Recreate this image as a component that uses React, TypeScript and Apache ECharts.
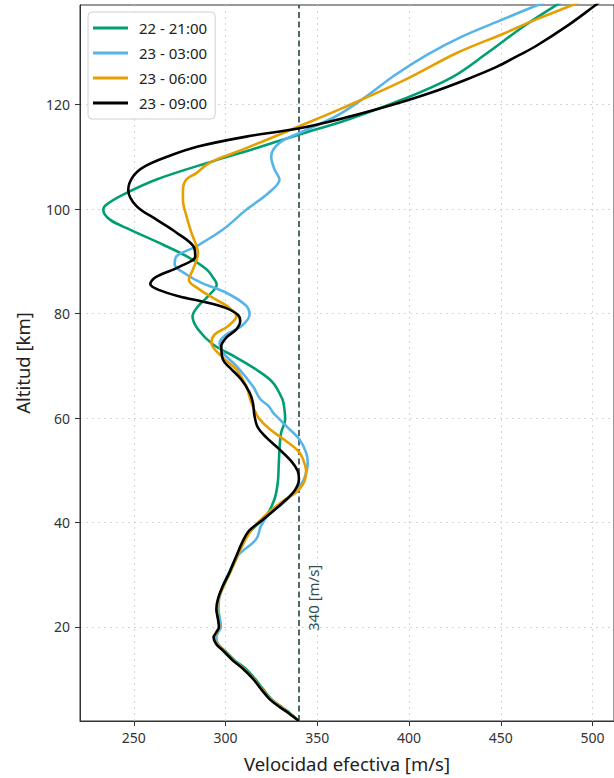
import React, { useEffect, useRef } from "react";
import * as echarts from "echarts";

const xTicks = [250, 300, 350, 400, 450, 500];
const yTicks = [20, 40, 60, 80, 100, 120];
const seriesNames = ["22 - 21:00", "23 - 03:00", "23 - 06:00", "23 - 09:00"];
const seriesColors = ["#009E73", "#56B4E9", "#E69F00", "#000000"];
const refSpeed = 340;
const refLabel = "340 [m/s]";
const refLabelAltitude = 20;
const xTitle = "Velocidad efectiva [m/s]";
const yTitle = "Altitud [km]";

// [velocidad m/s, altitud km]
const green: number[][] = [
  [340, 2], [335.5, 3.4], [330.5, 4.7], [325, 6.2], [320.5, 8.1], [316, 10.1], [311, 12],
  [305, 13.6], [299.5, 15.5], [296, 16.7], [294.5, 18], [295.5, 19], [296.8, 20], [296, 21.5],
  [295.5, 23.4], [296.2, 25.4], [299, 27.9], [302.5, 30.5], [306.5, 33.6], [310, 36.5],
  [314, 38.5], [322.2, 41.3], [326.7, 44.5], [328.5, 47.7], [329, 51], [329.4, 54],
  [330.3, 57.2], [332.5, 59.8], [332, 62], [331, 63.6], [325.8, 66.8], [316.7, 69.3],
  [305.9, 71.6], [293.2, 74.1], [285, 77], [282, 79.5], [285, 81.4], [290.4, 83.3],
  [295.2, 85.6], [293, 87], [289.6, 88.5], [278.7, 91], [266, 93.2], [247.9, 96.1],
  [237, 98], [233.4, 99.9], [235.2, 100.9], [244.2, 102.8], [262.4, 105.7], [293.2, 109.2],
  [314, 111.4], [340.3, 114.3], [366, 117.1], [396.4, 121], [423.6, 125.3],
  [443, 130], [461.6, 134.8], [479, 138.8], [487, 140.5],
];

const blue: number[][] = [
  [340, 2], [335, 3.4], [330, 4.7], [324.5, 6.2], [319.8, 8.1], [315, 10.1], [309.8, 12],
  [304.5, 13.6], [299, 15.5], [296, 16.7], [295, 18], [296, 19], [297.5, 20], [297, 21.5],
  [296.2, 23.4], [296.5, 25.4], [298.6, 27.9], [302, 30.5], [306.5, 33.6], [316.7, 36.8],
  [319.4, 39.4], [323.5, 41.5], [331.5, 43.8], [339, 46.4], [343, 48.5], [344.8, 51.5],
  [343.9, 53.4], [340.3, 55.9], [333, 58.5], [329.4, 59.8], [326, 61], [323.5, 62.3],
  [319, 63.6], [314.9, 66.1], [305.9, 70], [298.6, 72.5], [296.8, 74.4], [300.4, 76],
  [308.6, 77.6], [313.1, 79.8], [311, 81.6], [300.4, 84], [287, 85.9], [278.7, 87.5],
  [272.3, 89.4], [273.3, 91], [284.1, 92.9], [298.6, 96.1], [311.3, 99.9], [323.4, 103.1],
  [329.4, 105.7], [326.7, 107.6], [324.9, 110.1], [329, 112.6], [340.3, 114.6],
  [360.2, 117.8], [376, 121.4], [392, 125.6], [410, 129.6], [428.5, 133],
  [450.8, 136.3], [468.1, 138.8], [478, 140.2],
];

const orange: number[][] = [
  [340, 2], [335, 3.4], [330, 4.7], [324.5, 6.2], [319.8, 8.1], [315.2, 10.1], [309.8, 12],
  [304.3, 13.6], [298.8, 15.5], [295.5, 16.7], [294, 18], [295.3, 19], [296.6, 20],
  [296.1, 21.5], [295.3, 23.4], [296.2, 25.4], [299, 27.9], [302.6, 30.5], [306.5, 33.6],
  [310.5, 36.5], [314, 38.5], [320.5, 41], [330, 43.8], [340.3, 46.4], [343.9, 49.6],
  [343.5, 50.8], [340.3, 53.4], [333, 55.6], [324, 57.9], [318.5, 59.8], [316.5, 61],
  [314, 63], [311.3, 66.1], [305.9, 69.3], [298.6, 71.6], [292.3, 74.4], [294.1, 76],
  [301.3, 77.6], [305.9, 79.5], [302.2, 81.1], [293.2, 83], [286, 84.6], [280, 86.5],
  [282.3, 88.5], [285, 91.6], [281.4, 95.5], [278.7, 98.7], [276.8, 101.8], [276.8, 103.7],
  [278.7, 105.7], [284.1, 106.9], [289.6, 108.5], [295, 109.5], [311.3, 111.7],
  [340.3, 115.9], [364, 119.4], [398, 124.8], [426, 129.9], [452, 133.7],
  [469, 136.3], [487, 138.8], [498, 140.5],
];

const black: number[][] = [
  [340, 2], [334.8, 3.4], [329.4, 4.7], [324, 6.2], [319.4, 8.1], [314.9, 10.1], [309.5, 12],
  [304, 13.6], [298.6, 15.5], [295, 16.7], [293.5, 18], [295, 19], [296.4, 20], [295.9, 21.5],
  [295, 23.4], [295.9, 25.4], [298.6, 27.9], [302.2, 30.5], [305.9, 33.6], [309.5, 36.5],
  [313, 38.5], [320.5, 40.6], [331.2, 43.8], [337.6, 46.1], [340, 48.3], [339.3, 49.9],
  [335.7, 51.8], [329.4, 54], [322.2, 56.3], [317.6, 58.2], [315.8, 60.4], [314.9, 63],
  [313.1, 64.9], [308.6, 67.4], [302.2, 69.7], [298.6, 71.2], [297.7, 73.8], [300.4, 75.4],
  [305.9, 77], [308, 78.6], [306.7, 79.8], [300, 81.1], [289, 82.2], [275, 83.3],
  [264, 84.5], [259, 85.7], [262, 87], [275, 89], [283.5, 91], [282.5, 92.9], [273.3, 95.5],
  [262.4, 98], [251.5, 100.6], [247, 103.7], [249.7, 106.3], [256, 108.2], [268.5, 110.1],
  [285, 112], [311.3, 113.9], [340.3, 115.5], [366, 117.6], [391, 120],
  [411, 122.2], [431, 124.8], [448, 127.3], [460, 129.5], [469, 131.2], [487, 135.3],
  [500.6, 138.8], [507, 140.5],
];

const seriesData = [green, blue, orange, black];

const FONT = "Noto Sans";

export default function App() {
  const ref = useRef<HTMLDivElement>(null);
  useEffect(() => {
    document.body.style.margin = "0";
    if (!ref.current) return;
    const chart = echarts.init(ref.current, undefined, { renderer: "svg" });
    const option: any = {
      animation: false,
      backgroundColor: "#ffffff",
      textStyle: { fontFamily: FONT },
      grid: {
        left: 80, top: 5, right: -2, bottom: 56,
        show: true, borderColor: "#333", borderWidth: 1, backgroundColor: "transparent",
      },
      legend: {
        orient: "vertical",
        left: 88,
        top: 12,
        data: seriesNames,
        icon: "rect",
        itemWidth: 35,
        itemHeight: 3,
        itemGap: 7,
        padding: [7, 8, 7, 5],
        backgroundColor: "#ffffff",
        borderColor: "#d0d0d0",
        borderWidth: 1,
        borderRadius: 4,
        textStyle: { fontFamily: FONT, fontSize: 15, color: "#222", lineHeight: 18, padding: [0, 0, 0, 6] },
      },
      xAxis: {
        type: "value",
        min: 220.7,
        max: 511.7,
        name: xTitle,
        nameLocation: "middle",
        nameGap: 33,
        nameTextStyle: { fontFamily: FONT, fontSize: 18.5, color: "#222" },
        axisLine: { lineStyle: { color: "#333", width: 1 } },
        axisTick: { show: true, length: 5, inside: false, customValues: xTicks, lineStyle: { color: "#333" } },
        axisLabel: { customValues: xTicks, fontFamily: FONT, fontSize: 14, color: "#333", margin: 9 },
        splitLine: { show: true, lineStyle: { color: "#d5d5d5", type: [2, 4], width: 1 } },
      },
      yAxis: {
        type: "value",
        min: 2,
        max: 139.1,
        name: yTitle,
        nameLocation: "middle",
        nameGap: 48,
        nameTextStyle: { fontFamily: FONT, fontSize: 18.5, color: "#222" },
        axisLine: { show: true, lineStyle: { color: "#333", width: 1 } },
        axisTick: { show: true, length: 5, inside: false, customValues: yTicks, lineStyle: { color: "#333" } },
        axisLabel: { customValues: yTicks, fontFamily: FONT, fontSize: 14, color: "#333", margin: 10 },
        splitLine: { show: true, lineStyle: { color: "#d5d5d5", type: [2, 4], width: 1 } },
      },
      series: seriesNames.map((name, i) => ({
        name,
        type: "line",
        data: seriesData[i],
        showSymbol: false,
        symbol: "none",
        smooth: 0.35,
        lineStyle: { color: seriesColors[i], width: 2.6 },
        itemStyle: { color: seriesColors[i] },
        z: 3 + i,
        markLine: i === 0 ? {
          silent: true,
          symbol: "none",
          label: { show: false },
          lineStyle: { color: "#2F4F4F", type: [6, 3.5], width: 2, opacity: 0.85 },
          data: [{ xAxis: refSpeed }],
          z: 2,
        } : undefined,
      })),
    };
    chart.setOption(option);
    const p = chart.convertToPixel({ gridIndex: 0 }, [refSpeed, refLabelAltitude]) as number[];
    chart.setOption({
      graphic: [{
        type: "text",
        x: p[0] + 14,
        y: p[1] + 4,
        rotation: Math.PI / 2,
        style: {
          text: refLabel,
          fontFamily: FONT,
          fontSize: 15,
          fill: "#2F4F4F",
          align: "left",
          verticalAlign: "middle",
        },
        z: 10,
      }],
    });
    return () => chart.dispose();
  }, []);
  return <div ref={ref} style={{ width: 614, height: 778 }} />;
}
